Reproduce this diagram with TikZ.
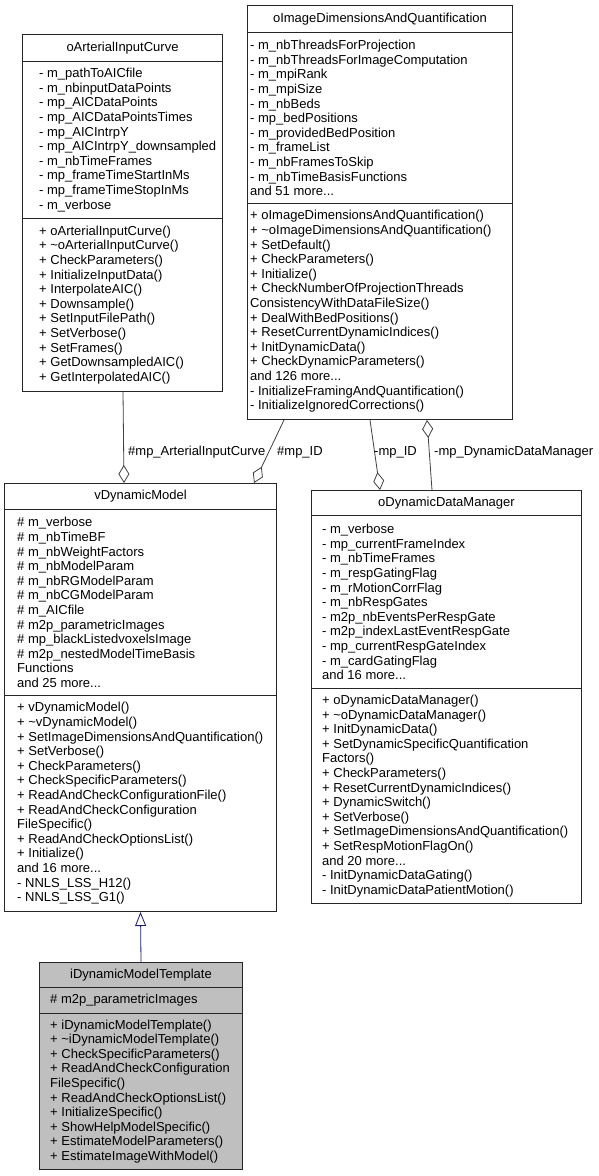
\documentclass[tikz,border=0pt]{standalone}
\usepackage{fontspec}
\setmainfont{Liberation Sans}
\usetikzlibrary{arrows.meta}
\definecolor{midnightblue}{RGB}{25,25,112}
\newcommand\umlfont{\fontsize{13pt}{14.6pt}\selectfont}
\begin{document}
\begin{tikzpicture}[
        x=1pt, y=-1pt,
        classbox/.style={draw=black!85, line width=1pt, fill=white, anchor=north west, inner sep=0pt, font=\umlfont},
        members/.style={anchor=west, align=left, inner sep=0pt, font=\umlfont},
        edgelabel/.style={anchor=west, inner sep=0pt, font=\umlfont},
        aggr/.style={draw=black!75, line width=0.8pt, -{Diamond[open, length=18pt, width=11pt]}},
        inherit/.style={draw=midnightblue, line width=0.8pt, -{Triangle[open, fill=white, length=14pt, width=11pt]}},
    ]
    \useasboundingbox (0, 0) rectangle (598, 1176);

    \node[classbox, minimum width=200, minimum height=27] (aic) at (22, 34) {oArterialInputCurve};
    \node[classbox, minimum width=200, minimum height=157] (aicattr) at (22, 61) {};
    \node[classbox, minimum width=200, minimum height=173] (aicops) at (22, 218) {};
    \node[members] (aicattrtext) at ([xshift=17pt]aicattr.west) {- m\_pathToAICfile\\- m\_nbinputDataPoints\\- mp\_AICDataPoints\\- mp\_AICDataPointsTimes\\- mp\_AICIntrpY\\- mp\_AICIntrpY\_downsampled\\- m\_nbTimeFrames\\- mp\_frameTimeStartInMs\\- mp\_frameTimeStopInMs\\- m\_verbose};
    \node[members] (aicopstext) at ([xshift=17pt]aicops.west) {+ oArterialInputCurve()\\+ \textasciitilde oArterialInputCurve()\\+ CheckParameters()\\+ InitializeInputData()\\+ InterpolateAIC()\\+ Downsample()\\+ SetInputFilePath()\\+ SetVerbose()\\+ SetFrames()\\+ GetDownsampledAIC()\\+ GetInterpolatedAIC()};

    \node[classbox, minimum width=265, minimum height=27] (idq) at (247, 5) {oImageDimensionsAndQuantification};
    \node[classbox, minimum width=265, minimum height=171] (idqattr) at (247, 32) {};
    \node[classbox, minimum width=265, minimum height=216] (idqops) at (247, 203) {};
    \node[members] (idqattrtext) at ([xshift=3pt]idqattr.west) {- m\_nbThreadsForProjection\\- m\_nbThreadsForImageComputation\\- m\_mpiRank\\- m\_mpiSize\\- m\_nbBeds\\- mp\_bedPositions\\- m\_providedBedPosition\\- m\_frameList\\- m\_nbFramesToSkip\\- m\_nbTimeBasisFunctions\\and 51 more...};
    \node[members] (idqopstext) at ([xshift=3pt]idqops.west) {+ oImageDimensionsAndQuantification()\\+ \textasciitilde oImageDimensionsAndQuantification()\\+ SetDefault()\\+ CheckParameters()\\+ Initialize()\\+ CheckNumberOfProjectionThreads\\ConsistencyWithDataFileSize()\\+ DealWithBedPositions()\\+ ResetCurrentDynamicIndices()\\+ InitDynamicData()\\+ CheckDynamicParameters()\\and 126 more...\\- InitializeFramingAndQuantification()\\- InitializeIgnoredCorrections()};

    \node[classbox, minimum width=272, minimum height=26] (vdm) at (4, 483) {vDynamicModel};
    \node[classbox, minimum width=272, minimum height=186] (vdmattr) at (4, 509) {};
    \node[classbox, minimum width=272, minimum height=216] (vdmops) at (4, 695) {};
    \node[members] (vdmattrtext) at ([xshift=13pt]vdmattr.west) {\# m\_verbose\\\# m\_nbTimeBF\\\# m\_nbWeightFactors\\\# m\_nbModelParam\\\# m\_nbRGModelParam\\\# m\_nbCGModelParam\\\# m\_AICfile\\\# m2p\_parametricImages\\\# mp\_blackListedvoxelsImage\\\# m2p\_nestedModelTimeBasis\\Functions\\and 25 more...};
    \node[members] (vdmopstext) at ([xshift=13pt]vdmops.west) {+ vDynamicModel()\\+ \textasciitilde vDynamicModel()\\+ SetImageDimensionsAndQuantification()\\+ SetVerbose()\\+ CheckParameters()\\+ CheckSpecificParameters()\\+ ReadAndCheckConfigurationFile()\\+ ReadAndCheckConfiguration\\FileSpecific()\\+ ReadAndCheckOptionsList()\\+ Initialize()\\and 16 more...\\- NNLS\_LSS\_H12()\\- NNLS\_LSS\_G1()};

    \node[classbox, minimum width=270, minimum height=25] (ddm) at (311, 490) {oDynamicDataManager};
    \node[classbox, minimum width=270, minimum height=173] (ddmattr) at (311, 515) {};
    \node[classbox, minimum width=270, minimum height=215] (ddmops) at (311, 688) {};
    \node[members] (ddmattrtext) at ([xshift=11pt]ddmattr.west) {- m\_verbose\\- mp\_currentFrameIndex\\- m\_nbTimeFrames\\- m\_respGatingFlag\\- m\_rMotionCorrFlag\\- m\_nbRespGates\\- m2p\_nbEventsPerRespGate\\- m2p\_indexLastEventRespGate\\- mp\_currentRespGateIndex\\- m\_cardGatingFlag\\and 16 more...};
    \node[members] (ddmopstext) at ([xshift=11pt]ddmops.west) {+ oDynamicDataManager()\\+ \textasciitilde oDynamicDataManager()\\+ InitDynamicData()\\+ SetDynamicSpecificQuantification\\Factors()\\+ CheckParameters()\\+ ResetCurrentDynamicIndices()\\+ DynamicSwitch()\\+ SetVerbose()\\+ SetImageDimensionsAndQuantification()\\+ SetRespMotionFlagOn()\\and 20 more...\\- InitDynamicDataGating()\\- InitDynamicDataPatientMotion()};

    \node[classbox, fill=black!25, minimum width=203, minimum height=25] (idmt) at (39, 962) {iDynamicModelTemplate};
    \node[classbox, fill=black!25, minimum width=203, minimum height=26] (idmtattr) at (39, 987) {};
    \node[classbox, fill=black!25, minimum width=203, minimum height=156] (idmtops) at (39, 1013) {};
    \node[members] (idmtattrtext) at ([xshift=11pt]idmtattr.west) {\# m2p\_parametricImages};
    \node[members] (idmtopstext) at ([xshift=11pt]idmtops.west) {+ iDynamicModelTemplate()\\+ \textasciitilde iDynamicModelTemplate()\\+ CheckSpecificParameters()\\+ ReadAndCheckConfiguration\\FileSpecific()\\+ ReadAndCheckOptionsList()\\+ InitializeSpecific()\\+ ShowHelpModelSpecific()\\+ EstimateModelParameters()\\+ EstimateImageWithModel()};

    \draw[aggr] ([xshift=101pt]aicops.south west) -- ([xshift=120pt]vdm.north west);
    \draw[aggr] ([xshift=37pt]idqops.south west) -- ([xshift=-23pt]vdm.north east);
    \draw[aggr] ([xshift=123pt]idqops.south west) -- ([xshift=69pt]ddm.north west);
    \draw[aggr] ([xshift=121pt]ddm.north west) -- ([xshift=180pt]idqops.south west);
    \draw[inherit] (idmt.north) -- (vdmops.south);

    \node[edgelabel] (lblaic) at (128, 452) {\#mp\_ArterialInputCurve};
    \node[edgelabel] (lblidv) at (277, 452) {\#mp\_ID};
    \node[edgelabel] (lblidd) at (374, 452) {-mp\_ID};
    \node[edgelabel] (lblddm) at (434, 452) {-mp\_DynamicDataManager};
\end{tikzpicture}
\end{document}
